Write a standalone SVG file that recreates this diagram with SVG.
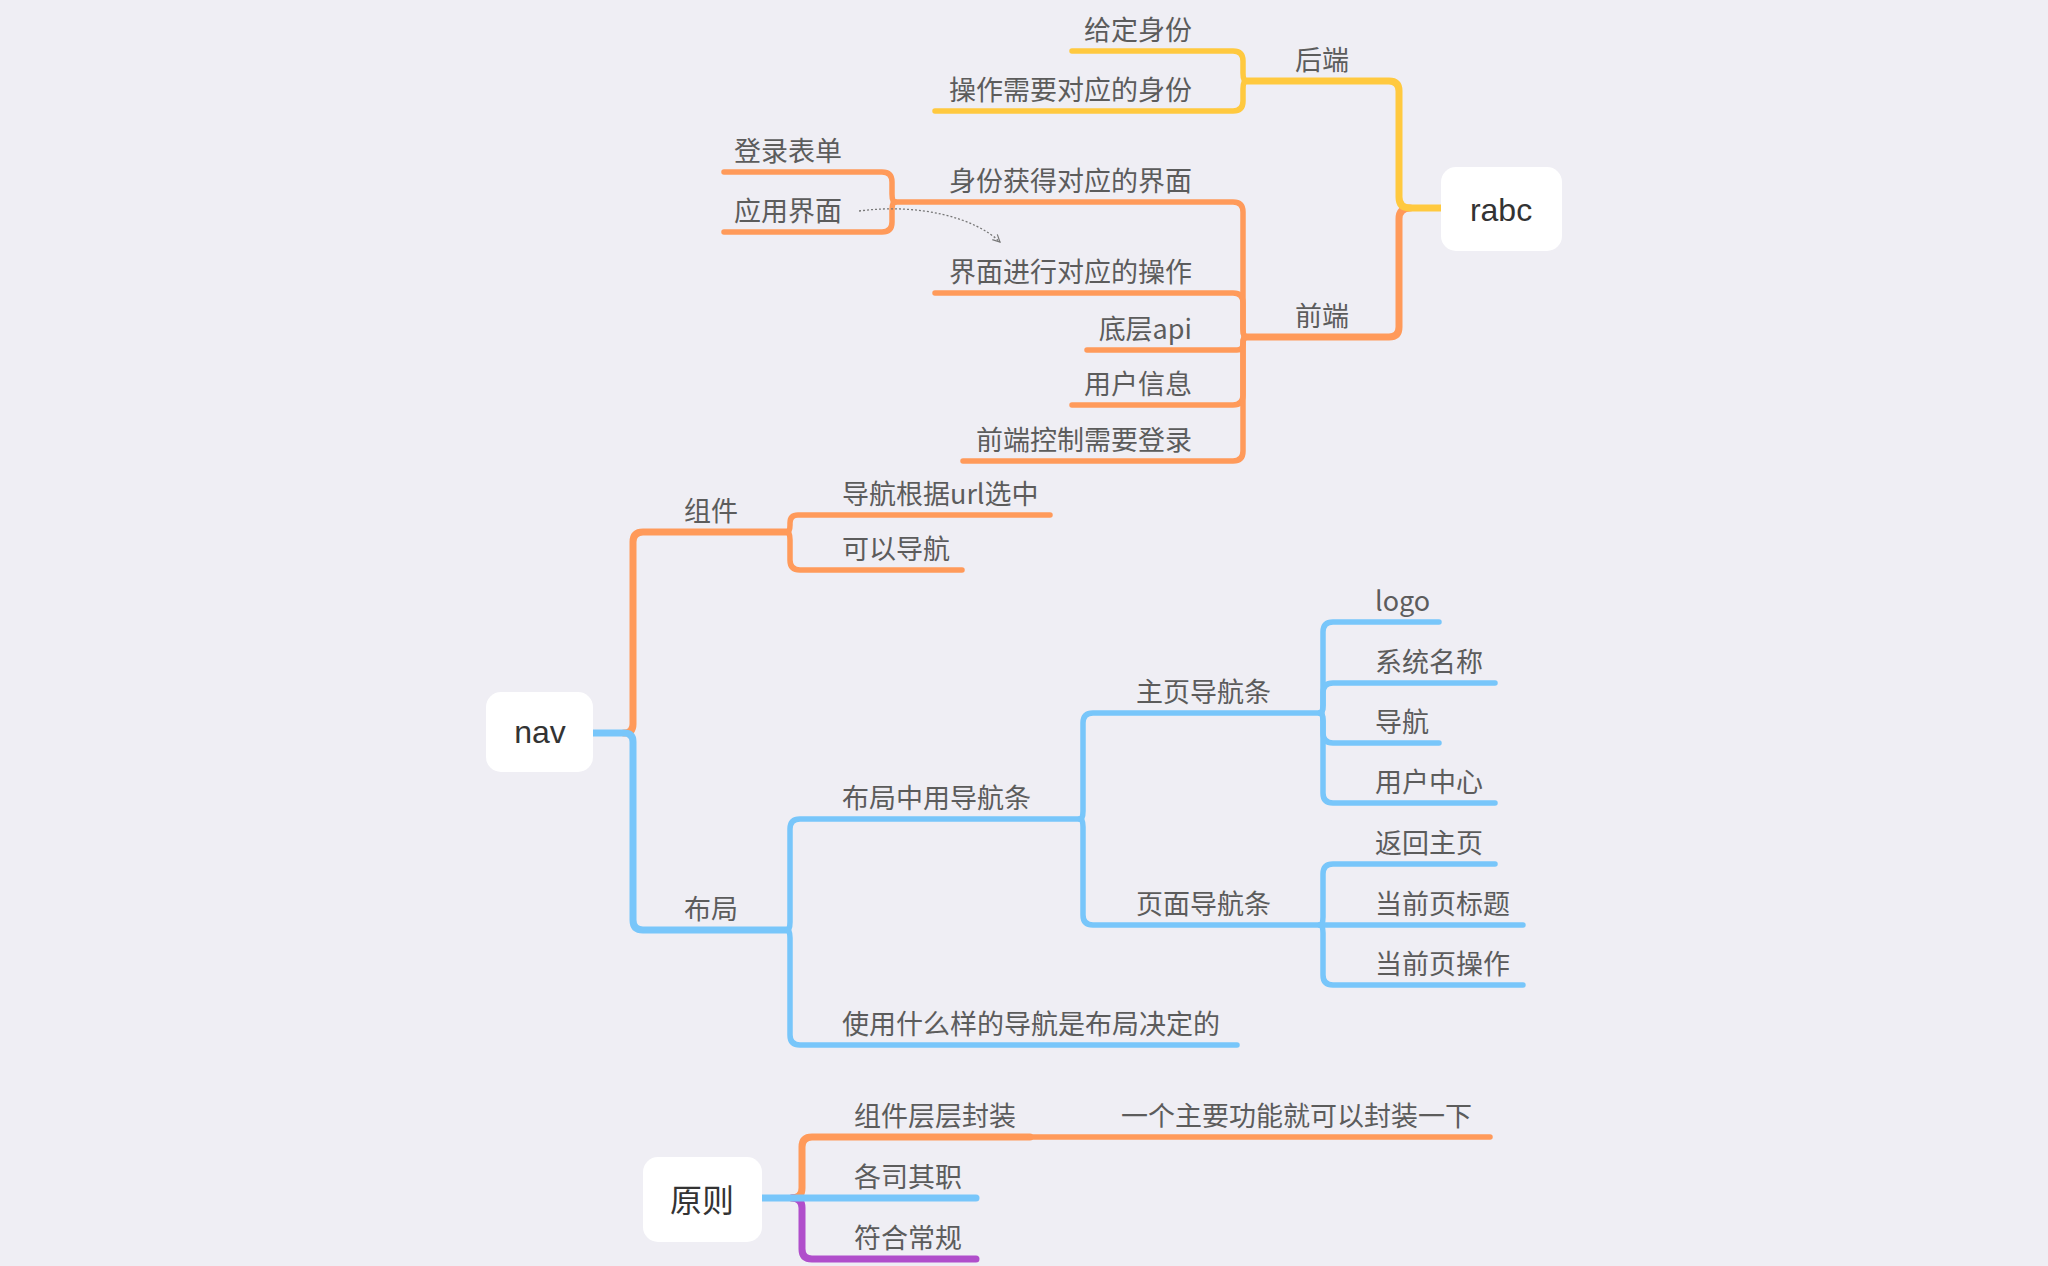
<svg xmlns="http://www.w3.org/2000/svg" width="2048" height="1266" viewBox="0 0 2048 1266">
<defs>
<style>
.bg{fill:#efeef4}
.root rect{fill:#ffffff}
.root text{font-family:"Liberation Sans","Noto Sans CJK SC",sans-serif;font-size:32px;fill:#333333;text-anchor:middle}
.lbl{font-family:"Noto Sans CJK SC","Liberation Sans",sans-serif;font-size:27px;fill:#5c5c5c}
.e{text-anchor:end}
.m{text-anchor:middle}
.s{text-anchor:start}
.ln{fill:none;stroke-linecap:round;stroke-linejoin:round}
.y{stroke:#ffc93f}
.o{stroke:#ff9a5a}
.b{stroke:#78c6fa}
.p{stroke:#b04ecb}
.w1{stroke-width:7}
.w2{stroke-width:5.5}
.dot{fill:none;stroke:#777777;stroke-width:1.3;stroke-dasharray:2 2}
</style>
<marker id="arr" viewBox="0 0 10 10" refX="9" refY="5" markerWidth="9" markerHeight="9" orient="auto" markerUnits="userSpaceOnUse">
<path d="M1,1 L9,5 L1,9" fill="none" stroke="#777777" stroke-width="1.3"/>
</marker>
</defs>
<rect class="bg" x="0" y="0" width="2048" height="1266"/>

<g id="connectors">
<!-- rabc -->
<path class="ln o w1" d="M1410 208 Q1399 208 1399 219 V327 Q1399 337 1389 337 H1246"/>
<path class="ln y w1" d="M1441 208 H1410 Q1399 208 1399 197 V91 Q1399 81 1389 81 H1246"/>
<path class="ln y w2" d="M1246 81 Q1243 81 1243 73 V61 Q1243 51 1233 51 H1072"/>
<path class="ln y w2" d="M1246 81 Q1243 81 1243 89 V101 Q1243 111 1233 111 H935"/>
<path class="ln o w2" d="M1246 337 Q1243 337 1243 329 V212 Q1243 202 1233 202 H895"/>
<path class="ln o w2" d="M1246 337 Q1243 337 1243 329 V303 Q1243 293 1233 293 H935"/>
<path class="ln o w2" d="M1246 337 Q1243 337 1243 342 V344 Q1243 350 1237 350 H1087"/>
<path class="ln o w2" d="M1246 337 Q1243 337 1243 345 V395 Q1243 405 1233 405 H1072"/>
<path class="ln o w2" d="M1246 337 Q1243 337 1243 345 V451 Q1243 461 1233 461 H963"/>
<path class="ln o w2" d="M895 202 Q892 202 892 194 V182 Q892 172 882 172 H724"/>
<path class="ln o w2" d="M895 202 Q892 202 892 210 V222 Q892 232 882 232 H724"/>
<path class="dot" d="M859 211 C920 203 975 218 1000 242" marker-end="url(#arr)"/>
<!-- nav -->
<path class="ln o w1" d="M624 733 Q633 733 633 724 V542 Q633 532 643 532 H787"/>
<path class="ln b w1" d="M593 733 H624 Q633 733 633 742 V920 Q633 930 643 930 H787"/>
<path class="ln o w2" d="M787 532 Q790 532 790 525 V523 Q790 515 798 515 H1050"/>
<path class="ln o w2" d="M787 532 Q790 532 790 540 V560 Q790 570 800 570 H962"/>
<path class="ln b w2" d="M787 930 Q790 930 790 922 V829 Q790 819 800 819 H1080"/>
<path class="ln b w2" d="M787 930 Q790 930 790 938 V1035 Q790 1045 800 1045 H1237"/>
<path class="ln b w2" d="M1080 819 Q1083 819 1083 811 V723 Q1083 713 1093 713 H1320"/>
<path class="ln b w2" d="M1080 819 Q1083 819 1083 827 V915 Q1083 925 1093 925 H1320"/>
<path class="ln b w2" d="M1320 713 Q1323 713 1323 705 V632 Q1323 622 1333 622 H1439"/>
<path class="ln b w2" d="M1320 713 Q1323 713 1323 705 V693 Q1323 683 1333 683 H1495"/>
<path class="ln b w2" d="M1320 713 Q1323 713 1323 721 V733 Q1323 743 1333 743 H1439"/>
<path class="ln b w2" d="M1320 713 Q1323 713 1323 721 V793 Q1323 803 1333 803 H1495"/>
<path class="ln b w2" d="M1320 925 Q1323 925 1323 917 V874 Q1323 864 1333 864 H1495"/>
<path class="ln b w2" d="M1320 925 H1523"/>
<path class="ln b w2" d="M1320 925 Q1323 925 1323 933 V975 Q1323 985 1333 985 H1523"/>
<!-- 原则 -->
<path class="ln o w1" d="M792 1198 Q802 1198 802 1188 V1147 Q802 1137 812 1137 H1030"/>
<path class="ln o w2" d="M1030 1137 H1490"/>
<path class="ln p w1" d="M792 1198 Q802 1198 802 1208 V1249 Q802 1259 812 1259 H976"/>
<path class="ln b w1" d="M762 1198 H976"/>
</g>

<g id="node-rabc" class="root"><rect x="1441" y="167" width="121" height="84" rx="15"/><text x="1501" y="221">rabc</text></g>
<g id="node-nav" class="root"><rect x="486" y="692" width="107" height="80" rx="15"/><text x="540" y="743">nav</text></g>
<g id="node-yuanze" class="root"><rect x="643" y="1157" width="119" height="85" rx="15"/><text x="702" y="1212">原则</text></g>

<g id="node-houduan"><text class="lbl m" x="1322" y="70">后端</text></g>
<g id="node-geiding"><text class="lbl e" x="1192" y="40">给定身份</text></g>
<g id="node-caozuo"><text class="lbl e" x="1192" y="100">操作需要对应的身份</text></g>
<g id="node-qianduan"><text class="lbl m" x="1322" y="326">前端</text></g>
<g id="node-shenfen"><text class="lbl e" x="1192" y="191">身份获得对应的界面</text></g>
<g id="node-denglu"><text class="lbl s" x="734" y="161">登录表单</text></g>
<g id="node-yingyong"><text class="lbl s" x="734" y="221">应用界面</text></g>
<g id="node-jiemian"><text class="lbl e" x="1192" y="282">界面进行对应的操作</text></g>
<g id="node-diceng"><text class="lbl e" x="1192" y="339">底层api</text></g>
<g id="node-yonghu"><text class="lbl e" x="1192" y="394">用户信息</text></g>
<g id="node-qdkz"><text class="lbl e" x="1192" y="450">前端控制需要登录</text></g>

<g id="node-zujian"><text class="lbl m" x="711" y="521">组件</text></g>
<g id="node-daohanggenju"><text class="lbl s" x="842" y="504">导航根据url选中</text></g>
<g id="node-keyi"><text class="lbl s" x="842" y="559">可以导航</text></g>
<g id="node-buju"><text class="lbl m" x="711" y="919">布局</text></g>
<g id="node-bujuzhong"><text class="lbl s" x="842" y="808">布局中用导航条</text></g>
<g id="node-shiyong"><text class="lbl s" x="842" y="1034">使用什么样的导航是布局决定的</text></g>
<g id="node-zhuye"><text class="lbl s" x="1136" y="702">主页导航条</text></g>
<g id="node-yemian"><text class="lbl s" x="1136" y="914">页面导航条</text></g>
<g id="node-logo"><text class="lbl s" x="1375" y="611">logo</text></g>
<g id="node-xitong"><text class="lbl s" x="1375" y="672">系统名称</text></g>
<g id="node-daohang"><text class="lbl s" x="1375" y="732">导航</text></g>
<g id="node-yonghuzx"><text class="lbl s" x="1375" y="792">用户中心</text></g>
<g id="node-fanhui"><text class="lbl s" x="1375" y="853">返回主页</text></g>
<g id="node-biaoti"><text class="lbl s" x="1375" y="914">当前页标题</text></g>
<g id="node-caozuo2"><text class="lbl s" x="1375" y="974">当前页操作</text></g>

<g id="node-cengceng"><text class="lbl s" x="854" y="1126">组件层层封装</text></g>
<g id="node-yige"><text class="lbl s" x="1121" y="1126">一个主要功能就可以封装一下</text></g>
<g id="node-gesi"><text class="lbl s" x="854" y="1187">各司其职</text></g>
<g id="node-fuhe"><text class="lbl s" x="854" y="1248">符合常规</text></g>
</svg>
